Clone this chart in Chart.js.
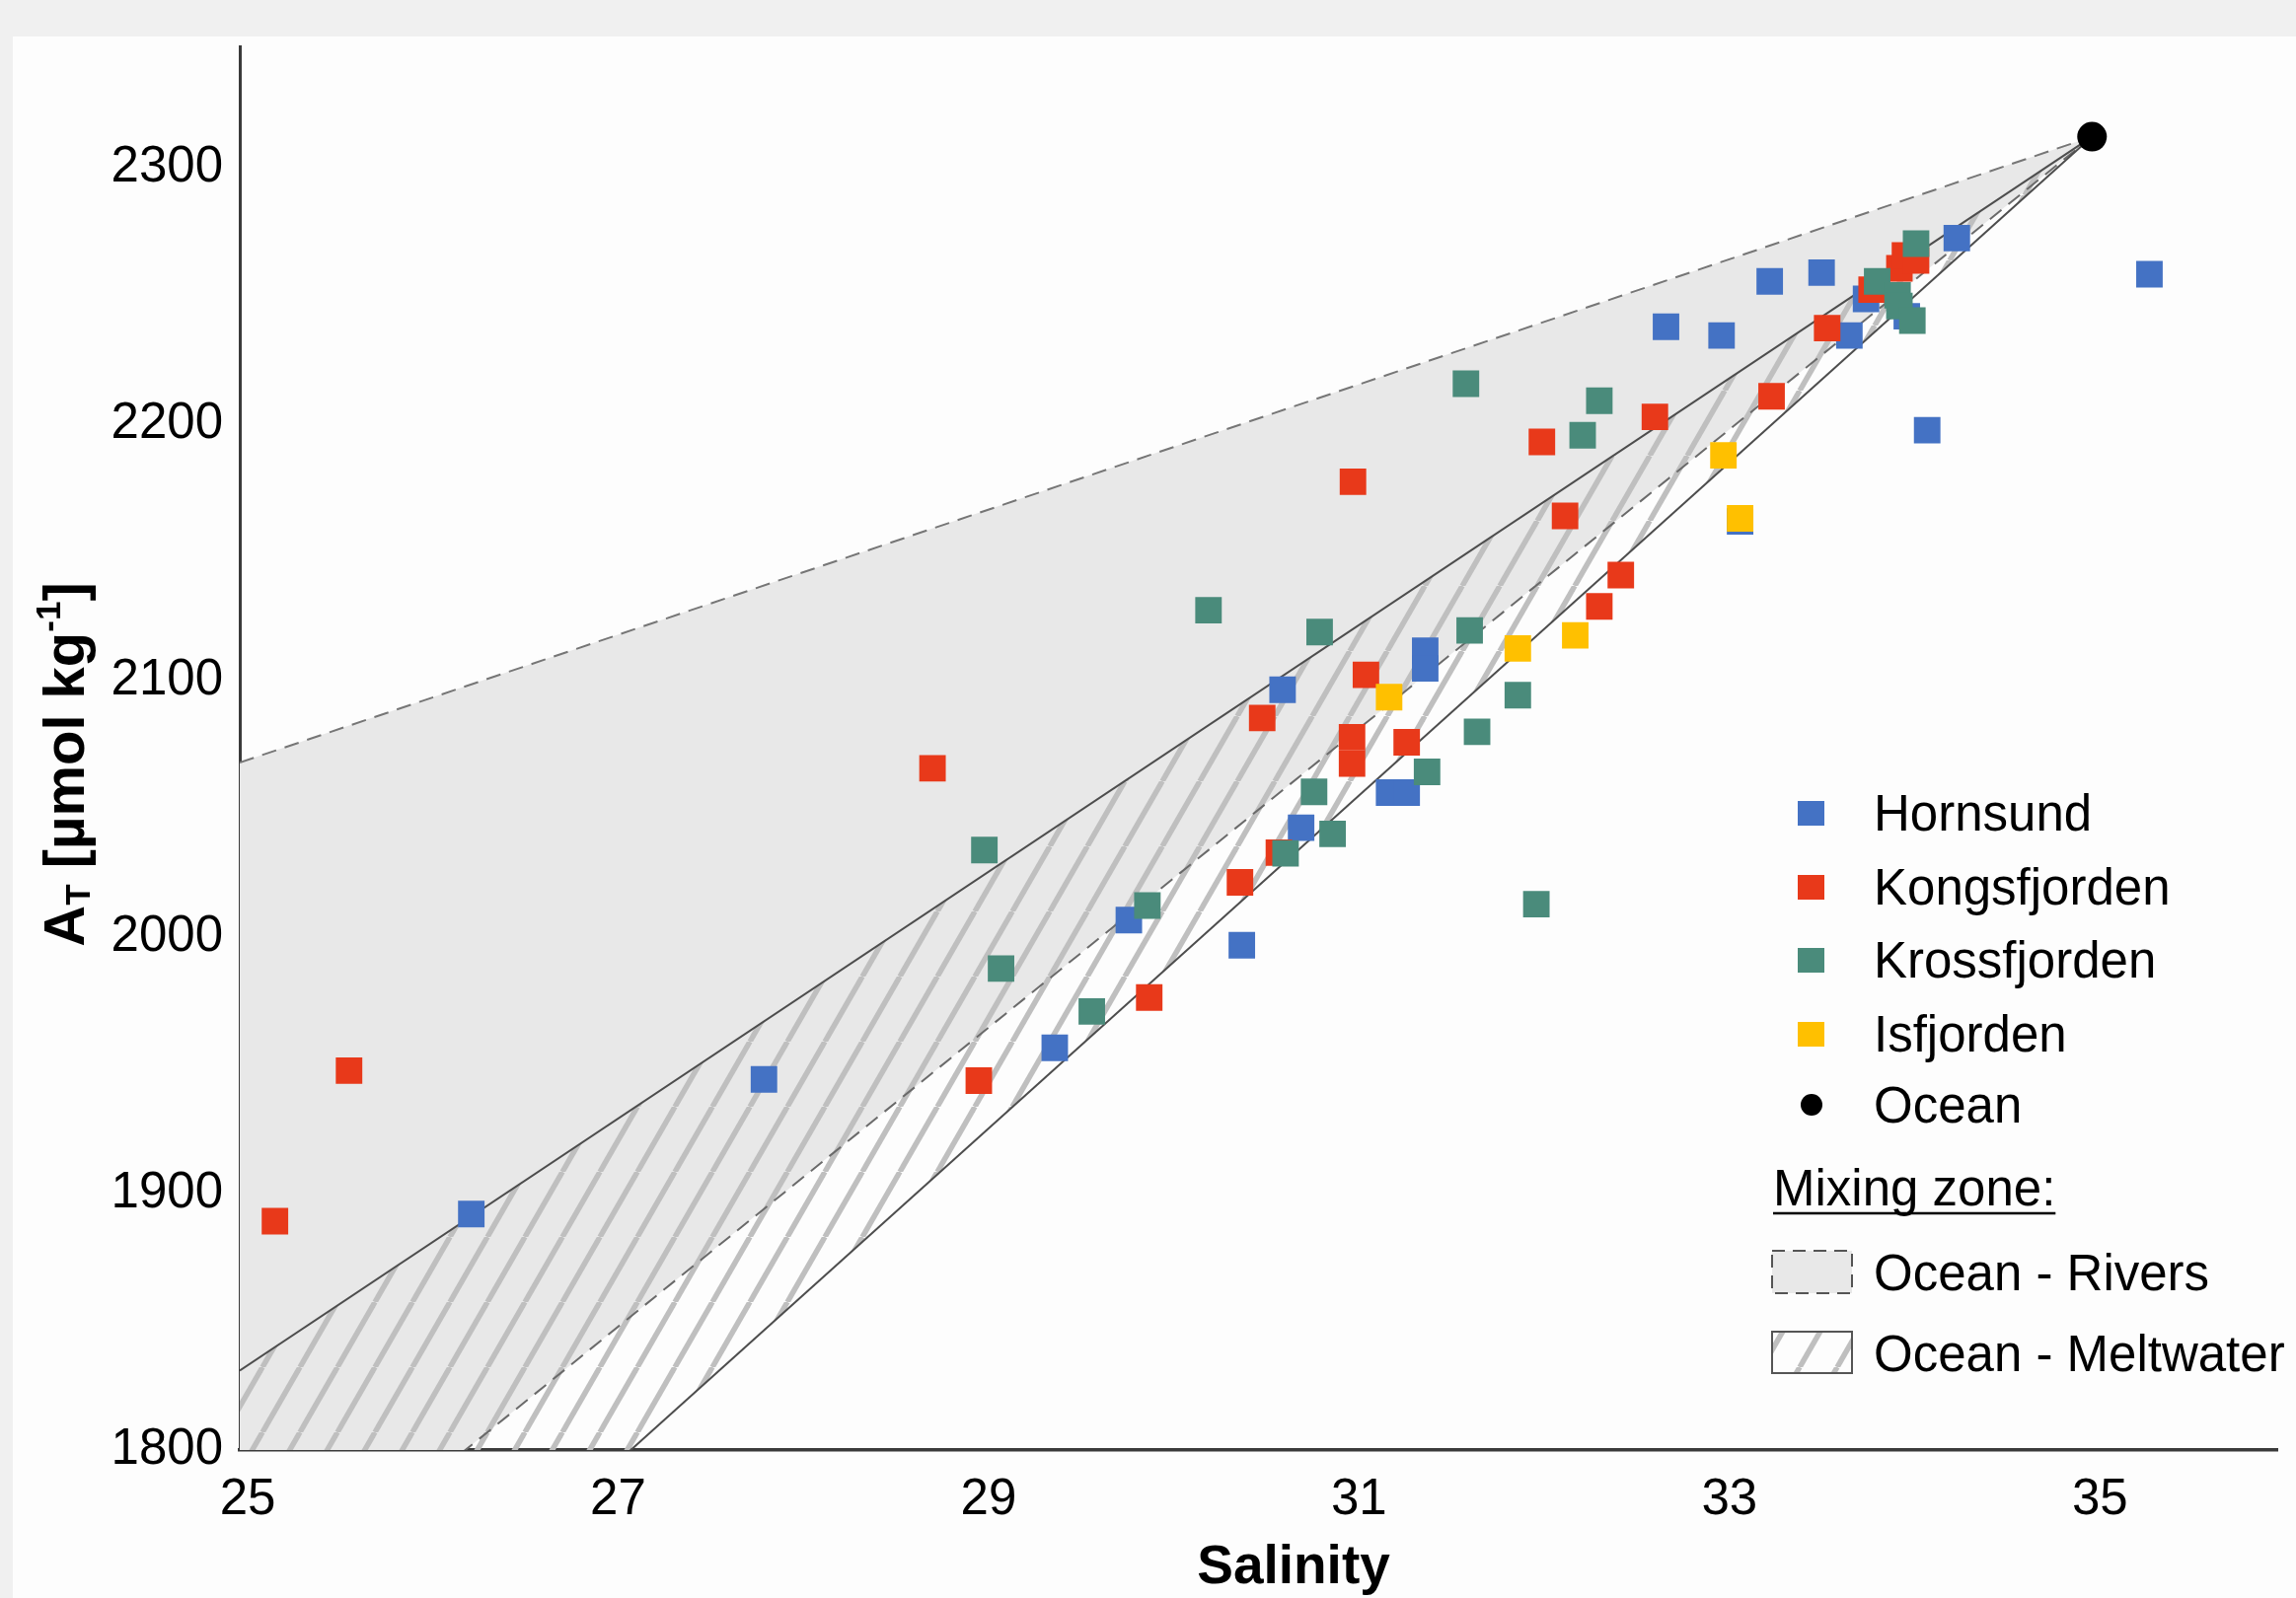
<!DOCTYPE html>
<html><head><meta charset="utf-8">
<script src="https://cdn.jsdelivr.net/npm/chart.js@4.4.1/dist/chart.umd.min.js"></script>
<style>html,body{margin:0;padding:0;background:#f0f0f0;overflow:hidden}canvas{display:block}</style>
</head><body><canvas id="c" width="2327" height="1620"></canvas>
<script>
// ---- Data (salinity, total alkalinity) ----
const hornsundS = [26.25, 27.83, 29.40, 29.80, 30.41, 30.63, 30.73, 31.205, 31.30, 31.40, 31.40, 32.70, 33.00, 33.10, 33.26, 33.54, 33.69, 33.78, 34.00, 34.11, 34.27, 35.31];
const hornsundA = [1892, 1944.5, 1956.8, 2006.6, 1996.8, 2096.4, 2042.6, 2056.3, 2056.3, 2111.6, 2104.7, 2237.9, 2234.5, 2162, 2255.6, 2259.0, 2234.5, 2248.8, 2242, 2197.6, 2272.5, 2258.4];

const kongsS = [25.19, 25.59, 28.74, 28.99, 29.91, 30.40, 30.52, 30.61, 31.01, 31.005, 31.005, 31.08, 31.30, 32.03, 32.155, 32.34, 32.456, 32.64, 33.27, 33.57, 33.81, 33.96, 33.99, 34.05];
const kongsA = [1889.2, 1947.9, 2065.8, 1944, 1976.4, 2021.3, 2085.4, 2032.9, 2177.5, 2077.9, 2067.6, 2102.2, 2075.9, 2193, 2164.2, 2128.9, 2141.1, 2202.8, 2210.8, 2237.4, 2252.4, 2260.7, 2265.7, 2263.8];

const krossS = [29.02, 29.11, 29.60, 29.90, 30.23, 30.646, 30.80, 30.83, 30.90, 31.41, 31.62, 31.64, 31.68, 31.90, 32.0, 32.25, 32.34, 33.84, 33.95, 33.96, 34.03, 34.05];
const krossA = [2033.9, 1987.7, 1971, 2012.3, 2127.4, 2032.6, 2056.6, 2118.9, 2040.2, 2064.4, 2215.7, 2119.5, 2080, 2094.3, 2012.8, 2195.6, 2209.1, 2255.6, 2250.2, 2246, 2240.3, 2270.3];

const isfjS = [31.205, 31.90, 32.21, 33.01, 33.10];
const isfjA = [2093.5, 2112.5, 2117.6, 2187.8, 2163.2];

const oceanS = [35];
const oceanA = [2312];

// Mixing-zone boundary lines (end points; lower ones continue below the axis and are clipped)
const riversUpperS = [25, 35], riversUpperA = [2068, 2312];
const riversLowerS = [25, 35], riversLowerA = [1729, 2312];
const meltUpperS = [25, 35], meltUpperA = [1831, 2312];
const meltLowerS = [25, 35], meltLowerA = [1663, 2312];

const xTicks = [25, 27, 29, 31, 33, 35];
const yTicks = [1800, 1900, 2000, 2100, 2200, 2300];

const seriesNames = ['Hornsund', 'Kongsfjorden', 'Krossfjorden', 'Isfjorden', 'Ocean'];
const seriesColors = ['#4472C4', '#E8391A', '#4A8B7B', '#FFC000', '#000000'];

// ---- helpers ----
const pts = (xs, ys) => xs.map((x, i) => ({x, y: ys[i]}));
const FONT = '"Liberation Sans", Arial, sans-serif';

function makeHatch() {
  const W = 38, H = 66;
  const c = document.createElement('canvas'); c.width = W; c.height = H;
  const g = c.getContext('2d');
  g.strokeStyle = '#bfbfbf'; g.lineWidth = 5.5;
  for (const x0 of [-W, 0, W]) { g.beginPath(); g.moveTo(x0, H); g.lineTo(x0 + W, 0); g.stroke(); }
  return g.createPattern(c, 'repeat');
}
const ctx = document.getElementById('c').getContext('2d');
const hatch = makeHatch();

const marker = (label, xs, ys, color, order, style, r) => ({
  label, data: pts(xs, ys), backgroundColor: color, borderColor: color, borderWidth: 0,
  pointStyle: style, pointRadius: r, pointHoverRadius: r, order, showLine: false
});
const line = (label, xs, ys, color, dash, order, fill, bg) => ({
  label, data: pts(xs, ys), borderColor: color, borderWidth: 2, borderDash: dash,
  pointRadius: 0, pointHoverRadius: 0, showLine: true, order, fill: fill, backgroundColor: bg || 'transparent'
});

const datasets = [
  marker(seriesNames[4], oceanS, oceanA, seriesColors[4], 0, 'circle', 15),
  marker(seriesNames[3], isfjS, isfjA, seriesColors[3], 1, 'rect', 19),
  marker(seriesNames[2], krossS, krossA, seriesColors[2], 2, 'rect', 19),
  marker(seriesNames[1], kongsS, kongsA, seriesColors[1], 3, 'rect', 19),
  marker(seriesNames[0], hornsundS, hornsundA, seriesColors[0], 4, 'rect', 19),
  line('meltLower', meltLowerS, meltLowerA, '#4d4d4d', [], 5, false),
  line('meltUpper', meltUpperS, meltUpperA, '#4d4d4d', [], 6, 5, hatch),
  line('riversLower', riversLowerS, riversLowerA, '#6a6a6a', [15, 9], 7, false),
  line('riversUpper', riversUpperS, riversUpperA, '#767676', [15, 9], 8, 7, '#e8e8e8')
];

const bgPlugin = {
  id: 'bg',
  beforeDraw(chart) {
    const c = chart.ctx;
    c.save();
    c.fillStyle = '#f0f0f0'; c.fillRect(0, 0, chart.width, chart.height);
    c.fillStyle = '#fdfdfd'; c.fillRect(13, 37, chart.width - 13, 1583);
    c.restore();
  }
};

const annot = {
  id: 'annot',
  afterDraw(chart) {
    const c = chart.ctx;
    c.save();
    // x title
    c.fillStyle = '#000';
    c.font = 'bold 55px ' + FONT;
    c.textAlign = 'center'; c.textBaseline = 'alphabetic';
    c.fillText('Salinity', 1311, 1605);
    // y title (rotated, with sub/superscripts)
    c.save();
    c.translate(85, 775); c.rotate(-Math.PI / 2);
    const big = 'bold 58px ' + FONT, small = 'bold 35px ' + FONT;
    const parts = [
      {t: 'A', f: big, dy: 0}, {t: 'T', f: small, dy: 6},
      {t: ' [µmol kg', f: big, dy: 0}, {t: '-1', f: small, dy: -24}, {t: ']', f: big, dy: 0}
    ];
    let tot = 0;
    for (const p of parts) { c.font = p.f; p.w = c.measureText(p.t).width; tot += p.w; }
    let x = -tot / 2;
    c.textAlign = 'left';
    for (const p of parts) { c.font = p.f; c.fillText(p.t, x, p.dy); x += p.w; }
    c.restore();

    // legend: series
    c.font = '51px ' + FONT;
    c.textAlign = 'left'; c.textBaseline = 'alphabetic';
    const rows = [824, 899, 973, 1048, 1120];
    const order = [4, 3, 2, 1, 0];
    order.forEach((di, i) => {
      const ds = chart.data.datasets[di];
      const cy = rows[i];
      c.fillStyle = ds.backgroundColor;
      if (ds.pointStyle === 'circle') {
        c.beginPath(); c.arc(1836, cy, 11, 0, Math.PI * 2); c.fill();
      } else {
        c.fillRect(1822, cy - 12, 27, 25);
      }
      c.fillStyle = '#000';
      c.fillText(ds.label, 1899, cy + 18);
    });
    // Mixing zone header
    c.fillText('Mixing zone:', 1797, 1222);
    const mw = c.measureText('Mixing zone:').width;
    c.strokeStyle = '#000'; c.lineWidth = 2.5;
    c.beginPath(); c.moveTo(1797, 1230); c.lineTo(1797 + mw, 1230); c.stroke();
    // Ocean - Rivers box
    c.fillStyle = '#e8e8e8'; c.fillRect(1796, 1268, 81, 43);
    c.setLineDash([13, 8]); c.strokeStyle = '#555'; c.lineWidth = 2;
    c.strokeRect(1796, 1268, 81, 43);
    c.setLineDash([]);
    c.fillStyle = '#000'; c.fillText('Ocean - Rivers', 1899, 1308);
    // Ocean - Meltwater box
    c.save();
    c.beginPath(); c.rect(1796, 1350, 81, 42); c.clip();
    c.fillStyle = '#fdfdfd'; c.fillRect(1796, 1350, 81, 42);
    c.fillStyle = hatch; c.fillRect(1796, 1350, 81, 42);
    c.restore();
    c.strokeStyle = '#555'; c.lineWidth = 2; c.strokeRect(1796, 1350, 81, 42);
    c.fillStyle = '#000'; c.fillText('Ocean - Meltwater', 1899, 1390);
    c.restore();
  }
};

new Chart(ctx, {
  type: 'scatter',
  data: { datasets },
  options: {
    responsive: false, animation: false,
    layout: { padding: { left: 0, top: 44, right: 18, bottom: 0 } },
    scales: {
      x: {
        type: 'linear', min: 25, max: 36,
        afterBuildTicks: s => { s.ticks = xTicks.map(v => ({value: v})); },
        afterFit: s => { s.height = 150; },
        grid: { display: false, drawTicks: false },
        border: { display: true, color: '#3a3a3a', width: 3.5 },
        ticks: { font: { family: FONT, size: 51 }, color: '#000', padding: 20, labelOffset: 8,
                 autoSkip: false, maxRotation: 0, callback: v => String(v) }
      },
      y: {
        type: 'linear', min: 1800, max: 2347,
        afterBuildTicks: s => { s.ticks = yTicks.map(v => ({value: v})); },
        afterFit: s => { s.width = 243; },
        grid: { display: false, drawTicks: false },
        border: { display: true, color: '#3a3a3a', width: 3 },
        ticks: { font: { family: FONT, size: 51 }, color: '#000', padding: 17, callback: v => String(v) }
      }
    },
    plugins: {
      legend: { display: false },
      tooltip: { enabled: false },
      filler: { drawTime: 'beforeDatasetsDraw' }
    }
  },
  plugins: [bgPlugin, annot]
});
</script>
</body></html>
